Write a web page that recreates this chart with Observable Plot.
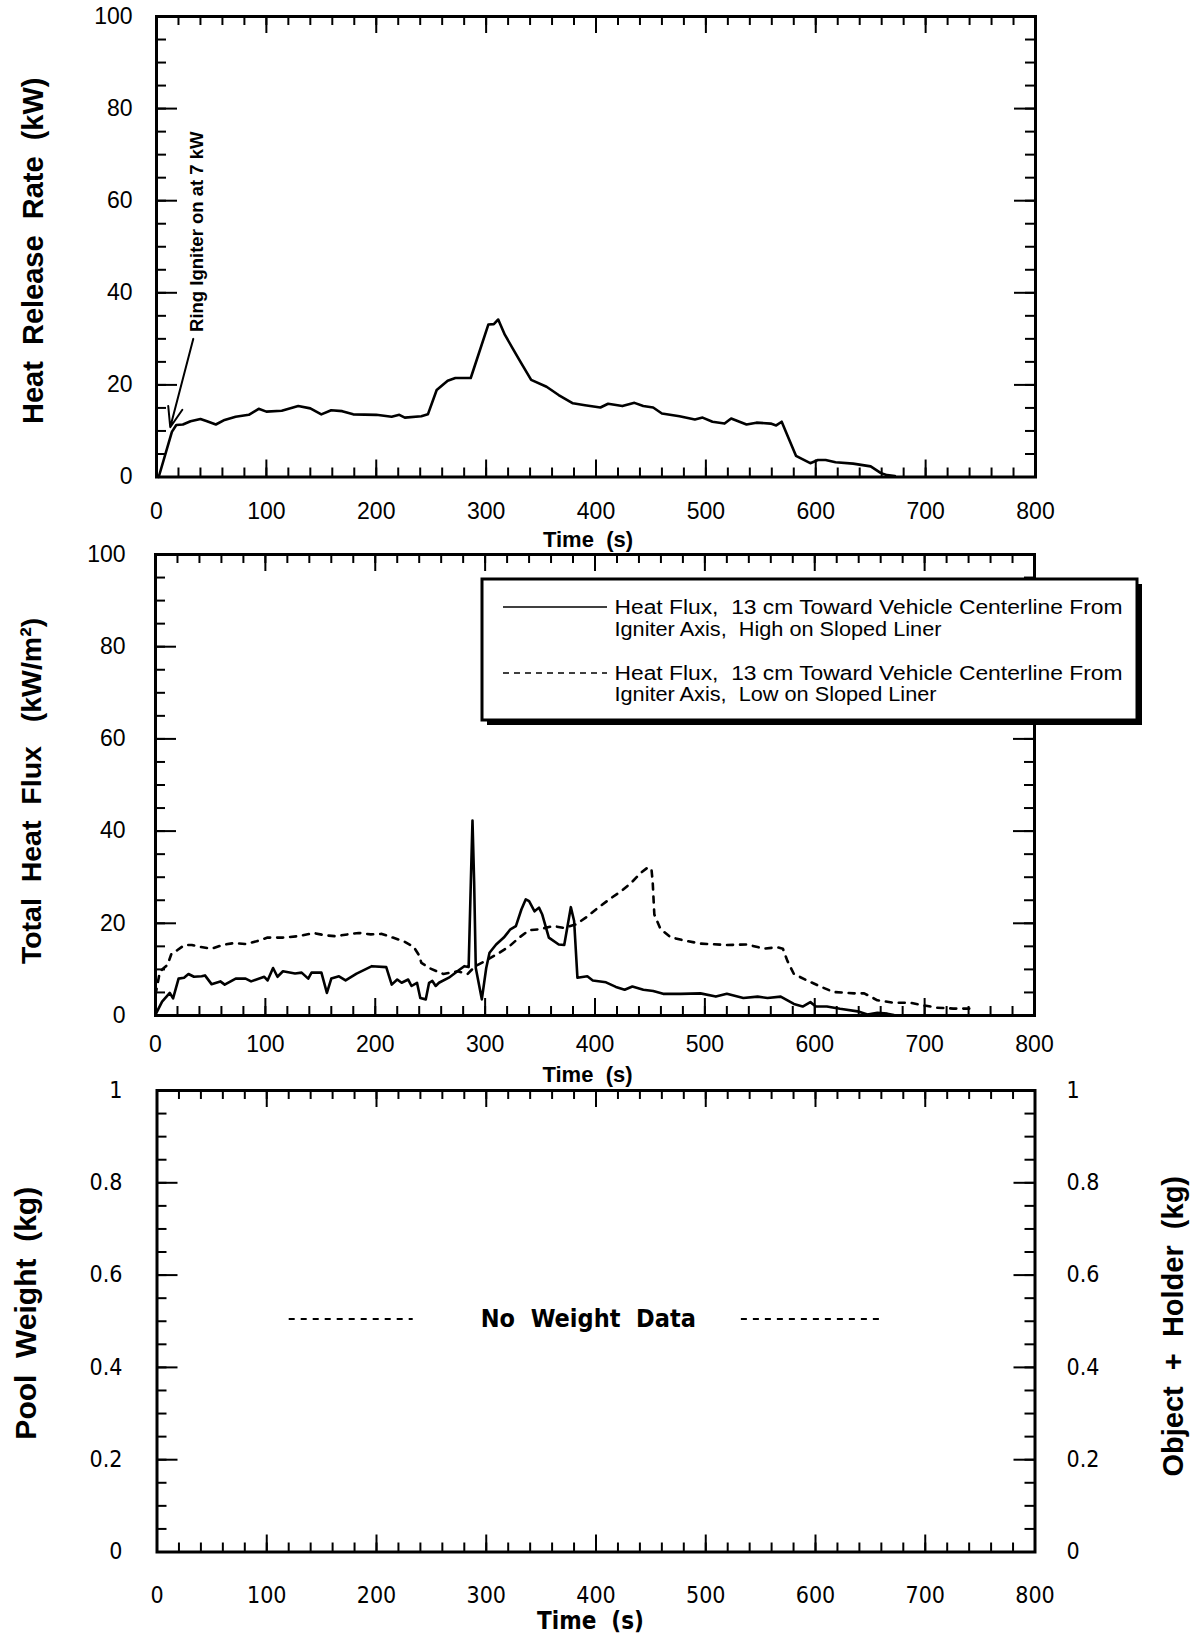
<!DOCTYPE html>
<html><head><meta charset="utf-8">
<script src="https://cdn.jsdelivr.net/npm/d3@7"></script>
<script src="https://cdn.jsdelivr.net/npm/@observablehq/plot@0.6"></script>
<style>
html,body{margin:0;padding:0;background:#fff;}
#page{position:relative;width:1198px;height:1638px;overflow:hidden;background:#fff;font-family:"Liberation Sans",Arial,Helvetica,sans-serif;}
#page svg{position:absolute;left:0;overflow:visible;}
</style></head><body><div id="page"></div>
<script>
// ---------- data ----------
const timeTicks = [0, 100, 200, 300, 400, 500, 600, 700, 800];
const hrrTicks = [0, 20, 40, 60, 80, 100];
const fluxTicks = [0, 20, 40, 60, 80, 100];
const weightTicks = [0, 0.2, 0.4, 0.6, 0.8, 1];
const weightTickLabels = ["0", "0.2", "0.4", "0.6", "0.8", "1"];

// Heat release rate (kW)
const hrrTime  = [2, 14, 18, 24, 31, 40, 46, 54, 62, 72, 84, 93, 100, 114, 129, 140, 150, 159, 169, 179, 200, 214, 221, 226, 241, 247, 255, 265, 272, 286, 302, 307, 311, 317, 324, 331, 341, 355, 366, 379, 390, 404, 411, 424, 435, 443, 452, 460, 476, 490, 497, 506, 517, 523, 537, 546, 559, 564, 569, 575, 582, 595, 602, 609, 618, 634, 650, 659, 665, 672];
const hrrValue = [0, 9.8, 11.3, 11.4, 12.1, 12.6, 12.1, 11.4, 12.4, 13.1, 13.5, 14.8, 14.2, 14.4, 15.4, 14.9, 13.6, 14.5, 14.3, 13.6, 13.5, 13.1, 13.5, 12.9, 13.2, 13.6, 18.9, 20.9, 21.5, 21.5, 33.1, 33.2, 34.2, 30.9, 28, 25.1, 21.1, 19.6, 17.8, 16, 15.6, 15.1, 15.9, 15.4, 16.1, 15.4, 15.1, 13.8, 13.2, 12.5, 12.9, 12, 11.6, 12.7, 11.4, 11.8, 11.6, 11.2, 12, 8.6, 4.6, 3, 3.7, 3.7, 3.2, 2.9, 2.3, 0.9, 0.4, 0.2];

// Heat flux, high on sloped liner (kW/m2)
const fluxHighTime  = [0, 6, 13, 16, 21, 26, 30, 35, 42, 45, 51, 59, 63, 73, 82, 87, 99, 102, 107, 111, 116, 127, 133, 139, 142, 151, 156, 160, 167, 173, 183, 197, 210, 215, 220, 224, 230, 233, 238, 241, 246, 249, 252, 255, 258, 267, 276, 281, 285, 287, 288.5, 290, 291.5, 297, 301, 304, 310, 317, 323, 328, 333, 337, 340, 345, 349, 352, 358, 367, 372, 378, 381, 384, 393, 398, 410, 419, 427, 434, 444, 453, 462, 478, 496, 510, 520, 535, 548, 557, 569, 581, 589, 596, 601, 611, 623, 639, 648, 657, 666, 672];
const fluxHighValue = [0.2, 3, 4.9, 3.7, 8, 8.2, 9, 8.4, 8.5, 8.7, 6.8, 7.4, 6.7, 8, 8, 7.4, 8.4, 7.6, 10.3, 8.4, 9.6, 9.1, 9.3, 8, 9.3, 9.3, 4.9, 8, 8.5, 7.6, 9.1, 10.7, 10.5, 6.7, 7.8, 7.1, 7.8, 6.4, 7.1, 3.8, 3.5, 7.1, 7.5, 6.4, 7.1, 8.2, 9.8, 10.7, 10.5, 29, 42.3, 29, 10.3, 3.5, 10.3, 13.6, 15.4, 16.9, 18.7, 19.4, 23, 25.2, 24.8, 22.6, 23.4, 21.9, 16.9, 15.4, 15.3, 23.5, 20.5, 8.2, 8.5, 7.6, 7.2, 6.2, 5.6, 6.3, 5.6, 5.3, 4.7, 4.7, 4.8, 4.1, 4.7, 3.8, 4.1, 3.8, 4.1, 2.5, 1.95, 2.9, 1.95, 1.95, 1.45, 0.9, 0.2, 0.6, 0.4, 0.1];

// Heat flux, low on sloped liner (kW/m2)
const fluxLowTime  = [0, 4, 7.6, 11, 14.5, 20, 26.5, 33, 40, 51, 61, 71, 82, 92, 102, 116, 130, 144, 154, 164, 175, 185, 196, 206, 216, 226, 235, 240, 242, 250, 262, 275, 284, 291, 300, 313, 322, 331, 340, 349, 362, 372, 383, 392, 403, 413, 424, 433, 442, 448.5, 451.5, 452.5, 454, 459.5, 468.6, 480.7, 496, 520, 538.6, 553.7, 566, 571, 575, 581, 593, 605, 617, 636, 645, 657, 672, 687, 699, 711, 726, 745];
const fluxLowValue = [4.5, 9.5, 10.3, 11, 13.4, 14.2, 15.3, 15.3, 14.9, 14.5, 15.3, 15.7, 15.5, 16.1, 16.9, 16.9, 17.2, 17.9, 17.4, 17.2, 17.6, 17.9, 17.6, 17.7, 16.9, 16.1, 14.9, 13, 11.4, 10.2, 9, 9.6, 9, 10.7, 11.8, 13.6, 15, 16.9, 18.5, 18.7, 19.4, 19, 19.8, 21.3, 23.4, 25.2, 27, 28.8, 31, 32.2, 31.5, 29, 21.9, 18.8, 17, 16.3, 15.6, 15.3, 15.4, 14.5, 14.8, 14.5, 11.9, 9, 7.6, 6.3, 5.1, 4.8, 4.8, 3.3, 2.75, 2.75, 2.2, 1.7, 1.5, 1.5];

// annotations (data space)
const igniterNote = [{t: 37, v: 31.5, label: "Ring Igniter on at 7 kW"}];
const igniterArrow = [{t1: 33.5, v1: 30, t2: 12.5, v2: 10.8}];
const noWeightLabel = [{t: 393, v: 0.505, label: "No  Weight  Data"}];
const noWeightDashes = [{t1: 120, t2: 233, v: 0.505}, {t1: 532, t2: 659, v: 0.505}];

const legendItems = [
  {dash: null, lines: ["Heat Flux,  13 cm Toward Vehicle Centerline From", "Igniter Axis,  High on Sloped Liner"]},
  {dash: "6,5", lines: ["Heat Flux,  13 cm Toward Vehicle Centerline From", "Igniter Axis,  Low on Sloped Liner"]}
];

// ---------- helpers ----------
const W = 1198;
const FONT = '"Liberation Sans", Arial, Helvetica, sans-serif';
const NARROW = '"Liberation Sans Narrow", "Arial Narrow", "DejaVu Sans Condensed", "Liberation Sans", Arial, sans-serif';
const toRows = (ts, vs) => ts.map((t, i) => ({t, v: vs[i]}));
const minorX = d3.range(0, 801, 20);

function frameTicks(innerW, innerH, yMajor, yMinor) {
  const sw = 2;
  return [
    Plot.tickX(minorX, {x: d => d, insetTop: innerH - 9, strokeWidth: sw}),
    Plot.tickX(minorX, {x: d => d, insetBottom: innerH - 9, strokeWidth: sw}),
    Plot.tickX(timeTicks, {x: d => d, insetTop: innerH - 17, strokeWidth: sw}),
    Plot.tickX(timeTicks, {x: d => d, insetBottom: innerH - 17, strokeWidth: sw}),
    Plot.tickY(yMinor, {y: d => d, insetRight: innerW - 10, strokeWidth: sw}),
    Plot.tickY(yMinor, {y: d => d, insetLeft: innerW - 10, strokeWidth: sw}),
    Plot.tickY(yMajor, {y: d => d, insetRight: innerW - 21, strokeWidth: sw}),
    Plot.tickY(yMajor, {y: d => d, insetLeft: innerW - 21, strokeWidth: sw}),
    Plot.frame({strokeWidth: 3})
  ];
}

function place(svg, top) {
  svg.style.top = top + "px";
  svg.style.background = "transparent";
  document.getElementById("page").appendChild(svg);
}

// ---------- top panel: heat release rate ----------
{
  const H = 560, mT = 16, mB = 83.5, mL = 156, mR = 163;
  const innerW = W - mL - mR, innerH = H - mT - mB;
  const svg = Plot.plot({
    width: W, height: H, marginTop: mT, marginBottom: mB, marginLeft: mL, marginRight: mR,
    style: {fontFamily: FONT, fontSize: "23px", color: "#000", background: "transparent", overflow: "visible"},
    x: {domain: [0, 800], axis: null},
    y: {domain: [0, 100], axis: null},
    marks: [
      ...frameTicks(innerW, innerH, hrrTicks, d3.range(0, 101, 5)),
      Plot.axisX(timeTicks, {anchor: "bottom", tickSize: 0, tickPadding: 26, fontSize: 23, label: null, tickFormat: d => String(d)}),
      Plot.axisY(hrrTicks, {anchor: "left", tickSize: 0, tickPadding: 24, fontSize: 23, label: null, tickFormat: d => String(d)}),
      Plot.line(toRows(hrrTime, hrrValue), {x: "t", y: "v", stroke: "#000", strokeWidth: 2.6}),
      Plot.arrow(igniterArrow, {x1: "t1", y1: "v1", x2: "t2", y2: "v2", stroke: "#000", strokeWidth: 2, headLength: 16, headAngle: 40}),
      Plot.text(igniterNote, {x: "t", y: "v", text: "label", rotate: -90, textAnchor: "start", lineAnchor: "middle", fontSize: 18.5, fontWeight: "bold"}),
      Plot.text(["Heat  Release  Rate  (kW)"], {frameAnchor: "left", textAnchor: "middle", text: d => d, rotate: -90, dx: -123, dy: 4, fontSize: 29, fontWeight: "bold", lineAnchor: "middle"}),
      Plot.text(["Time  (s)"], {frameAnchor: "bottom", textAnchor: "middle", text: d => d, dx: -8, dy: 62.5, fontSize: 22, fontWeight: "bold", lineAnchor: "middle"})
    ]
  });
  place(svg, 0);
}

// ---------- middle panel: total heat flux ----------
{
  const H = 560, mT = 24, mB = 75, mL = 155, mR = 164;
  const innerW = W - mL - mR, innerH = H - mT - mB;
  const svg = Plot.plot({
    width: W, height: H, marginTop: mT, marginBottom: mB, marginLeft: mL, marginRight: mR,
    style: {fontFamily: FONT, fontSize: "23px", color: "#000", background: "transparent", overflow: "visible"},
    x: {domain: [0, 800], axis: null},
    y: {domain: [0, 100], axis: null},
    marks: [
      ...frameTicks(innerW, innerH, fluxTicks, d3.range(0, 101, 5)),
      Plot.axisX(timeTicks, {anchor: "bottom", tickSize: 0, tickPadding: 20, fontSize: 23, label: null, tickFormat: d => String(d)}),
      Plot.axisY(fluxTicks, {anchor: "left", tickSize: 0, tickPadding: 30, fontSize: 23, label: null, tickFormat: d => String(d)}),
      Plot.line(toRows(fluxLowTime, fluxLowValue), {x: "t", y: "v", stroke: "#000", strokeWidth: 2.6, strokeDasharray: "6,7"}),
      Plot.line(toRows(fluxHighTime, fluxHighValue), {x: "t", y: "v", stroke: "#000", strokeWidth: 2.6}),
      Plot.text(["Total  Heat  Flux   (kW/m²)"], {frameAnchor: "left", textAnchor: "middle", text: d => d, rotate: -90, dx: -124, dy: 6, fontSize: 28.5, fontWeight: "bold", lineAnchor: "middle"}),
      Plot.text(["Time  (s)"], {frameAnchor: "bottom", textAnchor: "middle", text: d => d, dx: -7.5, dy: 59, fontSize: 22, fontWeight: "bold", lineAnchor: "middle"})
    ]
  });
  place(svg, 530);
}

// ---------- bottom panel: weights ----------
{
  const H = 578, mT = 30, mB = 86.5, mL = 156.5, mR = 163.5;
  const innerW = W - mL - mR, innerH = H - mT - mB;
  const svg = Plot.plot({
    width: W, height: H, marginTop: mT, marginBottom: mB, marginLeft: mL, marginRight: mR,
    style: {fontFamily: NARROW, fontSize: "22px", color: "#000", background: "transparent", overflow: "visible"},
    x: {domain: [0, 800], axis: null},
    y: {domain: [0, 1], axis: null},
    marks: [
      ...frameTicks(innerW, innerH, weightTicks, d3.range(0, 1.0001, 0.05)),
      Plot.axisX(timeTicks, {anchor: "bottom", tickSize: 0, tickPadding: 35, fontSize: 23, fontFamily: NARROW, label: null, tickFormat: d => String(d)}),
      Plot.axisY(weightTicks, {anchor: "left", tickSize: 0, tickPadding: 34.5, fontSize: 23, fontFamily: NARROW, label: null, tickFormat: (d, i) => weightTickLabels[i]}),
      Plot.axisY(weightTicks, {anchor: "right", tickSize: 0, tickPadding: 31.5, fontSize: 23, fontFamily: NARROW, label: null, tickFormat: (d, i) => weightTickLabels[i]}),
      Plot.link(noWeightDashes, {x1: "t1", x2: "t2", y1: "v", y2: "v", stroke: "#000", strokeWidth: 2, strokeDasharray: "6,6"}),
      Plot.text(noWeightLabel, {x: "t", y: "v", text: "label", fontSize: 25, fontWeight: "bold", fontFamily: NARROW, lineAnchor: "middle"}),
      Plot.text(["Pool  Weight  (kg)"], {frameAnchor: "left", textAnchor: "middle", text: d => d, rotate: -90, dx: -130.5, dy: -8, fontSize: 30, fontWeight: "bold", fontFamily: FONT, lineAnchor: "middle"}),
      Plot.text(["Object  +  Holder  (kg)"], {frameAnchor: "right", textAnchor: "middle", text: d => d, rotate: -90, dx: 138.5, dy: 5, fontSize: 29, fontWeight: "bold", fontFamily: FONT, lineAnchor: "middle"}),
      Plot.text(["Time  (s)"], {frameAnchor: "bottom", textAnchor: "middle", text: d => d, dx: -5.5, dy: 69.5, fontSize: 24, fontWeight: "bold", fontFamily: NARROW, lineAnchor: "middle"})
    ]
  });
  place(svg, 1060);
}

// ---------- legend of middle panel (overlay) ----------
{
  const ns = "http://www.w3.org/2000/svg";
  const svg = document.createElementNS(ns, "svg");
  svg.setAttribute("width", W); svg.setAttribute("height", 1638);
  svg.style.top = "0px"; svg.style.pointerEvents = "none";
  const mk = (tag, attrs) => { const e = document.createElementNS(ns, tag); for (const k in attrs) e.setAttribute(k, attrs[k]); svg.appendChild(e); return e; };
  const box = {x: 482, y: 579, w: 655, h: 141};
  mk("rect", {x: box.x + 5, y: box.y + 5, width: box.w, height: box.h, fill: "#000"});
  mk("rect", {x: box.x, y: box.y, width: box.w, height: box.h, fill: "#fff", stroke: "#000", "stroke-width": 3});
  const rowY = [607, 673];
  const baseY = [[614, 636], [679.5, 701]];
  const widths = [[508, 327], [508, 322]];
  legendItems.forEach((item, i) => {
    const ln = mk("line", {x1: 503, x2: 607, y1: rowY[i], y2: rowY[i], stroke: "#000", "stroke-width": 1.6});
    if (item.dash) ln.setAttribute("stroke-dasharray", item.dash);
    item.lines.forEach((s, j) => {
      const t = mk("text", {x: 614.5, y: baseY[i][j], "font-family": FONT, "font-size": 20, fill: "#000", textLength: widths[i][j], lengthAdjust: "spacingAndGlyphs"});
      t.style.whiteSpace = "pre";
      t.textContent = s;
    });
  });
  document.getElementById("page").appendChild(svg);
}
</script></body></html>
